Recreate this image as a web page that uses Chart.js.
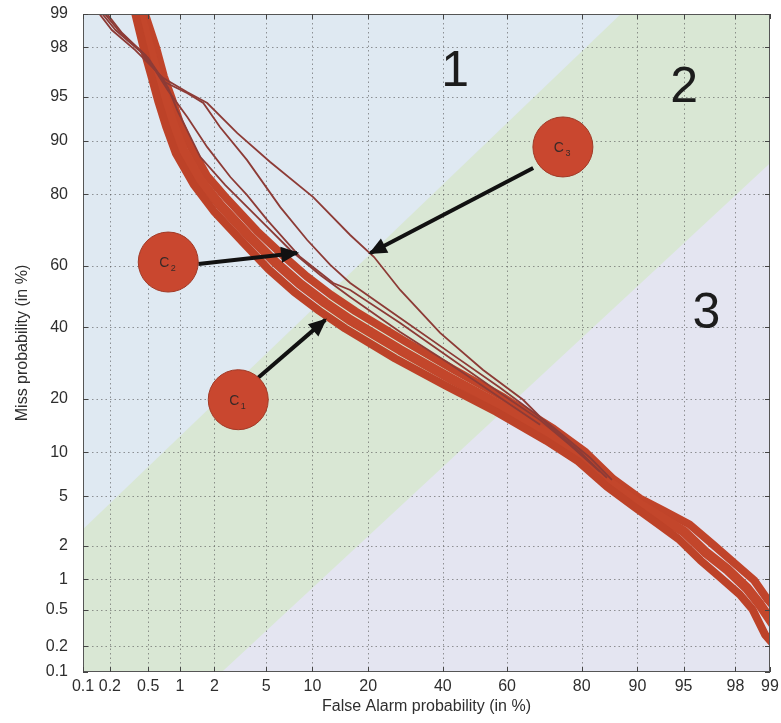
<!DOCTYPE html>
<html><head><meta charset="utf-8">
<script src="https://cdn.jsdelivr.net/npm/chart.js@4.4.1/dist/chart.umd.min.js"></script>
<style>html,body{margin:0;padding:0;background:#fff;}canvas{display:block;}</style>
</head><body>
<canvas id="c" width="781" height="723"></canvas>
<script>
// ---- tick values (percent) ----
const tickPercents = [0.1, 0.2, 0.5, 1, 2, 5, 10, 20, 40, 60, 80, 90, 95, 98, 99];
const tickLabels = ['0.1', '0.2', '0.5', '1', '2', '5', '10', '20', '40', '60', '80', '90', '95', '98', '99'];

// ---- thick band of DET curves (False Alarm %, Miss %) ----
const bandUpperFA   = [0.43, 0.60, 0.71, 0.84, 1.00, 1.25, 1.72, 2.54, 4.27, 6.42, 9.21, 12.83, 17.33, 29.11, 43.57, 59.09, 73.30, 80.88, 86.23, 90.35, 93.17, 95.47, 97.01, 97.92, 98.62, 98.95, 99.2];
const bandUpperMiss = [99.2, 97.95, 96.50, 94.89, 92.38, 89.15, 84.1, 78.9, 70.6, 63.5, 56.65, 50.57, 45.14, 35.64, 27.28, 20.24, 13.80, 10.0, 6.65, 4.82, 3.90, 3.03, 2.04, 1.44, 0.97, 0.63, 0.45];
const bandMidFA     = [0.39, 0.52, 0.62, 0.73, 0.87, 1.07, 1.51, 2.22, 3.81, 5.75, 8.4, 11.9, 16.2, 27.8, 42.2, 57.8, 72.3, 80.1, 85.7, 90.0, 92.8, 95.05, 96.6, 97.7, 98.4, 98.77, 99.1];
const bandMidMiss   = [99.2, 97.9, 96.4, 94.7, 92.1, 88.6, 83.1, 77.5, 68.8, 61.2, 54.1, 47.9, 42.4, 33.0, 25.1, 18.6, 12.7, 9.3, 6.25, 4.47, 3.48, 2.64, 1.74, 1.22, 0.82, 0.56, 0.33];
const bandLowerFA   = [0.35, 0.46, 0.55, 0.63, 0.75, 0.92, 1.33, 1.97, 3.42, 5.18, 7.68, 11.01, 15.27, 26.47, 40.92, 56.62, 71.30, 79.25, 85.07, 89.53, 92.36, 94.58, 96.22, 97.35, 98.16, 98.57, 98.89, 99.1];
const bandLowerMiss = [99.2, 97.8, 96.28, 94.53, 91.81, 88.04, 82.17, 75.97, 66.98, 58.90, 51.6, 45.27, 39.67, 30.51, 23.16, 17.16, 11.77, 8.74, 5.90, 4.18, 3.14, 2.30, 1.50, 1.04, 0.71, 0.50, 0.27, 0.2];

// ---- separated thin curves ----
const thin1FA   = [0.14, 0.21, 0.37, 0.70, 1.17, 1.74, 3.05, 5.32, 10.11, 16.26, 21.32, 27.77, 39.19, 52.57, 64.78, 72.33, 79.63, 85.1];
const thin1Miss = [99.1, 98.59, 97.88, 96.40, 95.38, 94.45, 91.07, 86.60, 79.37, 69.40, 62.78, 52.18, 38.24, 27.30, 19.78, 14.19, 10.06, 6.78];
const thin2FA   = [0.15, 0.23, 0.42, 0.73, 1.17, 1.61, 2.22, 3.62, 6.24, 9.30, 12.70, 16.26, 27.77, 42.23, 57.86, 72.33, 81.80, 86.0];
const thin2Miss = [99.1, 98.59, 97.80, 96.12, 95.30, 94.45, 91.86, 86.94, 76.94, 67.93, 60.27, 54.47, 43.03, 32.16, 22.64, 14.57, 9.23, 6.56];
const thin3FA   = [0.16, 0.256, 0.47, 0.77, 1.17, 1.74, 2.69, 3.62, 5.08, 8.42, 13.19, 16.26, 27.77, 42.23, 57.86, 69.63, 77.32, 83.8];
const thin3Miss = [99.1, 98.53, 97.66, 95.55, 93.02, 89.07, 83.75, 79.83, 73.56, 62.78, 54.45, 52.18, 41.42, 30.68, 21.39, 15.49, 11.10, 7.45];
const thin4FA   = [0.17, 0.27, 0.50, 0.78, 0.95, 1.52, 2.45, 4.17, 7.27, 11.12, 16.26, 27.77, 42.23, 57.86, 69.63];
const thin4Miss = [99.1, 98.50, 97.52, 95.70, 93.72, 87.47, 82.07, 74.90, 64.94, 57.07, 49.9, 38.55, 28.96, 20.24, 14.57];

// ---- region boundaries ----
const region12FA   = [0.1, 87.5, 99];
const region12Miss = [2.77, 99, 99];
const region23FA   = [2.3, 99];
const region23Miss = [0.1, 86.4];

// ---- annotations ----
const circleNames = ['1', '2', '3'];
const circleFA    = [3.1, 0.78, 75.6];
const circleMiss  = [19.8, 61.2, 89.1];
const arrowFromFA   = [4.37, 1.46, 67.7];
const arrowFromMiss = [25.2, 60.6, 85.5];
const arrowToFA     = [11.9, 8.04, 20.5];
const arrowToMiss   = [42.4, 64.0, 64.0];
const regionText  = ['1', '2', '3'];
const regionFA    = [43.8, 95.05, 96.6];
const regionMiss  = [97.0, 96.0, 45.6];

// ---- normal deviate transform ----
function probit(pct) {
  const p = pct / 100;
  const a = [-3.969683028665376e+01, 2.209460984245205e+02, -2.759285104469687e+02, 1.383577518672690e+02, -3.066479806614716e+01, 2.506628277459239e+00];
  const b = [-5.447609879822406e+01, 1.615858368580409e+02, -1.556989798598866e+02, 6.680131188771972e+01, -1.328068155288572e+01];
  const c = [-7.784894002430293e-03, -3.223964580411365e-01, -2.400758277161838e+00, -2.549732539343734e+00, 4.374664141464968e+00, 2.938163982698783e+00];
  const d = [7.784695709041462e-03, 3.224671290700398e-01, 2.445134137142996e+00, 3.754408661907416e+00];
  const plow = 0.02425, phigh = 1 - plow;
  let q, r;
  if (p < plow) {
    q = Math.sqrt(-2 * Math.log(p));
    return (((((c[0]*q+c[1])*q+c[2])*q+c[3])*q+c[4])*q+c[5]) / ((((d[0]*q+d[1])*q+d[2])*q+d[3])*q+1);
  } else if (p <= phigh) {
    q = p - 0.5; r = q*q;
    return (((((a[0]*r+a[1])*r+a[2])*r+a[3])*r+a[4])*r+a[5])*q / (((((b[0]*r+b[1])*r+b[2])*r+b[3])*r+b[4])*r+1);
  } else {
    q = Math.sqrt(-2 * Math.log(1 - p));
    return -(((((c[0]*q+c[1])*q+c[2])*q+c[3])*q+c[4])*q+c[5]) / ((((d[0]*q+d[1])*q+d[2])*q+d[3])*q+1);
  }
}
function pts(fa, miss) { return fa.map((v, i) => ({x: probit(v), y: probit(miss[i])})); }

const FONT = "'Liberation Sans', Arial, sans-serif";
const TXT = '#2e2e2e';

const datasets = [];
datasets.push({label: 'region 2', data: pts(region12FA, region12Miss), showLine: true, fill: 'start',
  backgroundColor: '#d9e7d4', borderColor: 'rgba(0,0,0,0)', borderWidth: 1, pointRadius: 0, order: 20});
datasets.push({label: 'region 3', data: pts(region23FA, region23Miss), showLine: true, fill: 'start',
  backgroundColor: '#e4e5f1', borderColor: 'rgba(0,0,0,0)', borderWidth: 1, pointRadius: 0, order: 19});

const bandSpecs = [
  [bandLowerFA, bandLowerMiss, 8, '#bd4228'],
  [bandMidFA, bandMidMiss, 10, '#c3462b'],
  [bandUpperFA, bandUpperMiss, 8, '#c0442a']
];
bandSpecs.forEach((s, i) => datasets.push({label: 'band ' + i, data: pts(s[0], s[1]), showLine: true, fill: false,
  borderColor: s[3], borderWidth: s[2], pointRadius: 0, borderJoinStyle: 'round', borderCapStyle: 'round', order: 10}));

const thinSpecs = [[thin1FA, thin1Miss], [thin2FA, thin2Miss], [thin3FA, thin3Miss], [thin4FA, thin4Miss]];
thinSpecs.forEach((s, i) => datasets.push({label: 'thin ' + i, data: pts(s[0], s[1]), showLine: true, fill: false,
  borderColor: '#8d3b36', borderWidth: 1.8, pointRadius: 0, order: 8}));

arrowFromFA.forEach((v, i) => datasets.push({label: 'arrow ' + i,
  data: [{x: probit(v), y: probit(arrowFromMiss[i])}, {x: probit(arrowToFA[i]), y: probit(arrowToMiss[i])}],
  showLine: true, fill: false, borderColor: '#111', borderWidth: 4, pointRadius: 0, borderCapStyle: 'butt', order: 3}));

datasets.push({label: 'circles', data: pts(circleFA, circleMiss), showLine: false,
  pointRadius: 30, pointBackgroundColor: '#c9472f', pointBorderColor: '#a13a27', pointBorderWidth: 1, order: 1});

const overlay = {
  id: 'overlay',
  beforeDatasetsDraw(chart) {
    const {ctx, chartArea: a} = chart;
    ctx.save(); ctx.fillStyle = '#dfe9f2'; ctx.fillRect(a.left, a.top, a.width, a.height); ctx.restore();
  },
  afterDatasetDraw(chart, args) {
    if (chart.data.datasets[args.index].label !== 'region 3') return;
    const {ctx, chartArea: a, scales: {x, y}} = chart;
    ctx.save();
    ctx.strokeStyle = 'rgba(85,85,85,0.6)'; ctx.lineWidth = 1; ctx.setLineDash([1.5, 3]);
    tickPercents.forEach(p => {
      const px = Math.round(x.getPixelForValue(probit(p))) + 0.5;
      if (px > a.left + 2 && px < a.right - 2) { ctx.beginPath(); ctx.moveTo(px, a.top); ctx.lineTo(px, a.bottom); ctx.stroke(); }
      const py = Math.round(y.getPixelForValue(probit(p))) + 0.5;
      if (py > a.top + 2 && py < a.bottom - 2) { ctx.beginPath(); ctx.moveTo(a.left, py); ctx.lineTo(a.right, py); ctx.stroke(); }
    });
    ctx.restore();
  },
  afterDatasetsDraw(chart) {
    const {ctx, chartArea: a, scales: {x, y}} = chart;
    ctx.save();
    ctx.strokeStyle = '#555'; ctx.lineWidth = 1;
    ctx.strokeRect(a.left + 0.5, a.top + 0.5, a.width - 1, a.height - 1);
    ctx.strokeStyle = '#444';
    tickPercents.forEach(p => {
      const px = Math.round(x.getPixelForValue(probit(p))) + 0.5;
      const py = Math.round(y.getPixelForValue(probit(p))) + 0.5;
      ctx.beginPath();
      ctx.moveTo(px, a.bottom); ctx.lineTo(px, a.bottom - 5);
      ctx.moveTo(px, a.top); ctx.lineTo(px, a.top + 5);
      ctx.moveTo(a.left, py); ctx.lineTo(a.left + 5, py);
      ctx.moveTo(a.right, py); ctx.lineTo(a.right - 5, py);
      ctx.stroke();
    });
    ctx.fillStyle = '#111';
    arrowToFA.forEach((v, i) => {
      const x0 = x.getPixelForValue(probit(arrowFromFA[i])), y0 = y.getPixelForValue(probit(arrowFromMiss[i]));
      const x1 = x.getPixelForValue(probit(v)), y1 = y.getPixelForValue(probit(arrowToMiss[i]));
      const L = Math.hypot(x1 - x0, y1 - y0), ux = (x1 - x0) / L, uy = (y1 - y0) / L;
      const tx = x1 + 2 * ux, ty = y1 + 2 * uy, hl = 18, hw = 8;
      ctx.beginPath();
      ctx.moveTo(tx, ty);
      ctx.lineTo(tx - hl * ux - hw * uy, ty - hl * uy + hw * ux);
      ctx.lineTo(tx - hl * ux + hw * uy, ty - hl * uy - hw * ux);
      ctx.closePath(); ctx.fill();
    });
    ctx.fillStyle = '#3a2a28'; ctx.textAlign = 'center'; ctx.textBaseline = 'alphabetic';
    circleNames.forEach((n, i) => {
      const cx = x.getPixelForValue(probit(circleFA[i])), cy = y.getPixelForValue(probit(circleMiss[i]));
      ctx.font = '14px ' + FONT; ctx.fillText('C', cx - 4, cy + 5);
      ctx.font = '9px ' + FONT; ctx.fillText(n, cx + 5, cy + 9);
    });
    ctx.fillStyle = '#1c1c1c'; ctx.font = '50px ' + FONT;
    regionText.forEach((t, i) => {
      const cx = x.getPixelForValue(probit(regionFA[i])), cy = y.getPixelForValue(probit(regionMiss[i]));
      ctx.fillText(t, cx, cy + 18);
    });
    ctx.restore();
  }
};

const tickCfg = {
  autoSkip: false, maxRotation: 0, minRotation: 0, color: TXT,
  font: {family: FONT, size: 16},
  callback: (v, i) => tickLabels[i]
};

new Chart(document.getElementById('c'), {
  type: 'scatter',
  data: {datasets},
  plugins: [overlay],
  options: {
    responsive: false, animation: false,
    layout: {autoPadding: false, padding: {top: 14, right: 11, left: 0, bottom: 0}},
    plugins: {legend: {display: false}, tooltip: {enabled: false}},
    elements: {line: {tension: 0}},
    scales: {
      x: {
        type: 'linear', min: probit(0.1), max: probit(99),
        afterBuildTicks: s => { s.ticks = tickPercents.map(p => ({value: probit(p)})); },
        afterFit: s => { s.height = 51; s.paddingLeft = 0; s.paddingRight = 0; },
        ticks: Object.assign({padding: 5}, tickCfg),
        grid: {display: false, drawTicks: false}, border: {display: false},
        title: {display: true, text: 'False Alarm probability (in %)', color: TXT, font: {family: FONT, size: 16}, padding: {top: 0, bottom: 7}}
      },
      y: {
        type: 'linear', min: probit(0.1), max: probit(99),
        afterBuildTicks: s => { s.ticks = tickPercents.map(p => ({value: probit(p)})); },
        afterFit: s => { s.width = 83; s.paddingTop = 0; s.paddingBottom = 0; },
        ticks: Object.assign({padding: 15}, tickCfg),
        grid: {display: false, drawTicks: false}, border: {display: false},
        title: {display: true, text: 'Miss probability (in %)', color: TXT, font: {family: FONT, size: 16}, padding: {top: 13, bottom: 0}}
      }
    }
  }
});
</script>
</body></html>
